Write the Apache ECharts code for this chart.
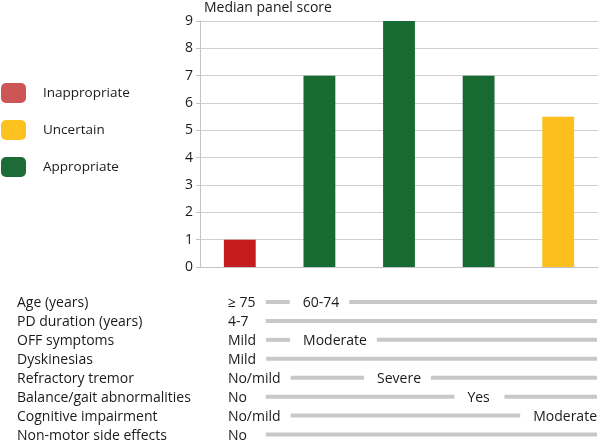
<!DOCTYPE html>
<html><head><meta charset="utf-8">
<script src="https://cdn.jsdelivr.net/npm/echarts@6/dist/echarts.min.js"></script>
<style>html,body{margin:0;padding:0;background:#fff}#c{width:600px;height:443px}</style>
</head><body><div id="c"></div>
<script>
const categories = ['A', 'B', 'C', 'D', 'E'];
const inappropriate = [1, null, null, null, null];
const uncertain = [null, null, null, null, 5.5];
const appropriate = [null, 7, 9, 7, null];
const yTicks = [0, 1, 2, 3, 4, 5, 6, 7, 8, 9];
const rowNames = ['Age (years)', 'PD duration (years)', 'OFF symptoms', 'Dyskinesias', 'Refractory tremor', 'Balance/gait abnormalities', 'Cognitive impairment', 'Non-motor side effects'];
const rowLevels = [
  [['≥ 75', 0], ['60-74', 1]],
  [['4-7', 0]],
  [['Mild', 0], ['Moderate', 1]],
  [['Mild', 0]],
  [['No/mild', 0], ['Severe', 2]],
  [['No', 0], ['Yes', 3]],
  [['No/mild', 0], ['Moderate', 4]],
  [['No', 0]]
];

const FONT = 'Open Sans';
const FS = 14;
const TXT = '#1a1a1a';
const mctx = document.createElement('canvas').getContext('2d');
function tw(s) { mctx.font = FS + 'px "' + FONT + '"'; return mctx.measureText(s).width; }

const chart = echarts.init(document.getElementById('c'));
chart.setOption({
  animation: false,
  textStyle: { fontFamily: FONT },
  title: { text: 'Median panel score', left: 204, top: 0, padding: [1, 0, 0, 0], textStyle: { fontSize: 14, fontWeight: 'normal', color: TXT, fontFamily: FONT } },
  legend: {
    orient: 'vertical', left: 1, top: 83, padding: 0, itemWidth: 25, itemHeight: 20, itemGap: 17,
    textStyle: { fontSize: 13.5, color: TXT, fontFamily: FONT, padding: [0, 0, 0, 12] },
    data: [
      { name: 'Inappropriate', itemStyle: { color: '#cc5656' } },
      { name: 'Uncertain', itemStyle: { color: '#fdc21f' } },
      { name: 'Appropriate', itemStyle: { color: '#1d6b37' } }
    ]
  },
  grid: [
    { left: 200, right: 2, top: 21, height: 246 },
    { left: 200, right: 2, top: 303.5, height: 135 }
  ],
  xAxis: [
    { type: 'category', data: categories, gridIndex: 0, axisLabel: { show: false }, axisTick: { show: false }, axisLine: { lineStyle: { color: '#c4c4c4' } } },
    { type: 'category', data: categories, gridIndex: 1, show: false }
  ],
  yAxis: [
    { type: 'value', gridIndex: 0, min: 0, max: 9, interval: 1,
      axisLine: { show: true, lineStyle: { color: '#c4c4c4' } },
      axisTick: { show: true, length: 4, lineStyle: { color: '#c4c4c4' } },
      axisLabel: { fontSize: 14, color: TXT, margin: 7, fontFamily: FONT, formatter: v => yTicks.includes(v) ? String(v) : '' },
      splitLine: { lineStyle: { color: '#cfcfcf' } } },
    { type: 'category', data: rowNames, gridIndex: 1, inverse: true, boundaryGap: false,
      axisLine: { show: false }, axisTick: { show: false }, splitLine: { show: false },
      axisLabel: { align: 'left', margin: 183, fontSize: FS, color: TXT, fontFamily: FONT } }
  ],
  series: [
    { name: 'Inappropriate', type: 'bar', stack: 's', barWidth: '40%', data: inappropriate, itemStyle: { color: '#c41c1f' } },
    { name: 'Uncertain', type: 'bar', stack: 's', barWidth: '40%', data: uncertain, itemStyle: { color: '#fdbf1e' } },
    { name: 'Appropriate', type: 'bar', stack: 's', barWidth: '40%', data: appropriate, itemStyle: { color: '#186a33' } },
    { name: 'table', type: 'custom', xAxisIndex: 1, yAxisIndex: 1, clip: false, silent: true,
      encode: { x: 0, y: 1 },
      data: rowLevels.map((l, i) => [0, i]),
      renderItem: function (params, api) {
        const row = api.value(1);
        const levels = rowLevels[row];
        const cs = params.coordSys;
        const rightEdge = cs.x + cs.width - 1;
        const bandW = api.size([1, 0])[0];
        const barW = bandW * 0.4;
        const y = api.coord([0, row])[1];
        const children = [];
        let prevBarStart = null;
        const items = [];
        levels.forEach(([t, col], i) => {
          const cx = api.coord([col, row])[0];
          const w = tw(t);
          let left;
          if (i === 0) left = cx - barW / 2 + 4;
          else if (col === categories.length - 1) left = rightEdge - w;
          else left = Math.max(cx - w / 2, prevBarStart + 24 + 13);
          const start = Math.max(left + w + 10, cx + barW / 2 + 10);
          prevBarStart = start;
          items.push({ t, col, w, left, start });
        });
        items.forEach((it, i) => {
          children.push({ type: 'text', style: { text: it.t, x: it.left, y: y, verticalAlign: 'middle', font: FS + 'px "' + FONT + '"', fill: TXT } });
          const end = i < items.length - 1 ? items[i + 1].left - 13 : (it.col === categories.length - 1 ? it.start : rightEdge);
          if (end > it.start) children.push({ type: 'rect', shape: { x: it.start, y: y - 3.5, width: end - it.start, height: 4 }, style: { fill: '#c8c8c8' } });
        });
        return { type: 'group', children };
      }
    }
  ]
});
</script></body></html>
